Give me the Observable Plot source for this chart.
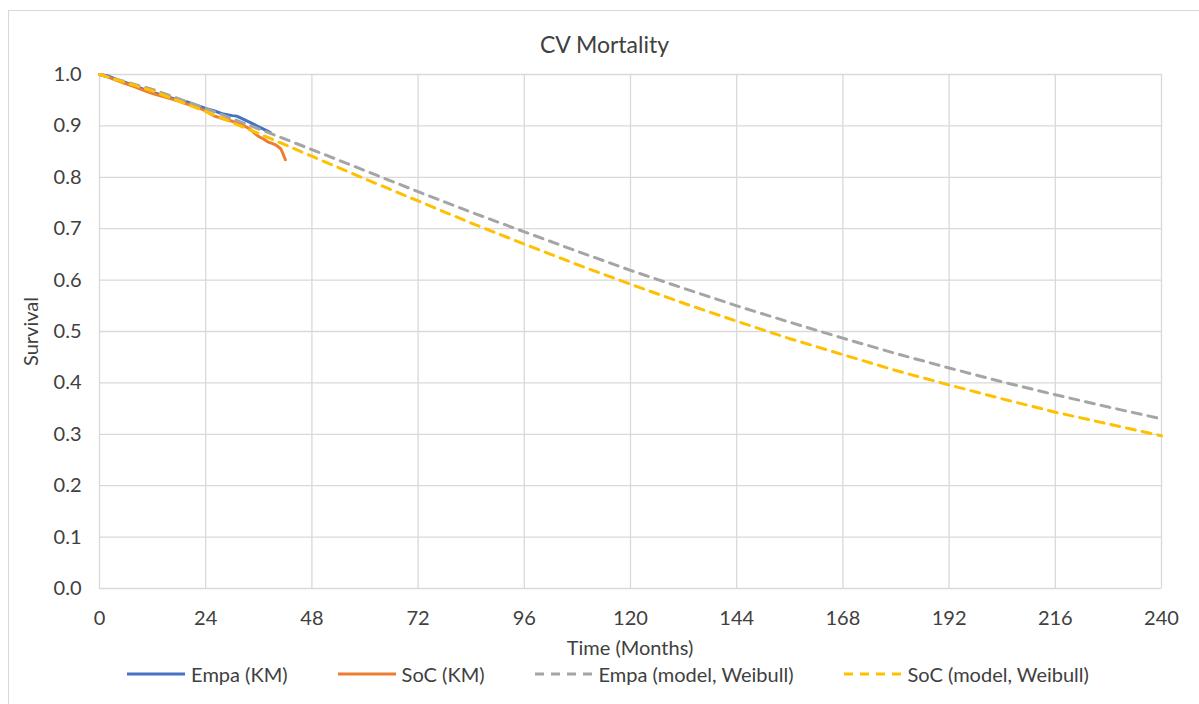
<!DOCTYPE html>
<html>
<head>
<meta charset="utf-8">
<script src="https://cdn.jsdelivr.net/npm/d3@7"></script>
<script src="https://cdn.jsdelivr.net/npm/@observablehq/plot@0.6"></script>
<style>
  body { margin: 0; background: #fff; font-family: Lato, "Open Sans", sans-serif; }
  #wrap { position: relative; width: 1199px; height: 704px; overflow: hidden; background: #fff; }
  #border { position: absolute; left: 8px; top: 10px; width: 1400px; height: 900px; border: 1px solid #d9d9d9; box-sizing: border-box; }
  #title { position: absolute; left: 0; top: 30px; width: 1209px; text-align: center; font-size: 23px; color: #404040; }
  #chart { position: absolute; left: 0; top: 60px; }
  #xlabel { position: absolute; left: 99px; width: 1062px; top: 635px; text-align: center; font-size: 20px; color: #404040; }
  #legend { position: absolute; left: 0; width: 1216px; top: 662px; display: flex; justify-content: center; gap: 50px; font-size: 20px; color: #404040; }
  .item { display: flex; align-items: center; gap: 6px; }
  .item svg { display: block; }
</style>
</head>
<body>
<div id="wrap">
  <div id="border"></div>
  <div id="title">CV Mortality</div>
  <div id="chart"></div>
  <div id="xlabel">Time (Months)</div>
  <div id="legend"></div>
</div>
<script>
// ---- data ----
const xTicks = [0, 24, 48, 72, 96, 120, 144, 168, 192, 216, 240];
const yTicks = [0, 0.1, 0.2, 0.3, 0.4, 0.5, 0.6, 0.7, 0.8, 0.9, 1.0];

// Kaplan-Meier (observed)
const empaKMTime = [0, 2, 4, 6, 8, 10, 12, 14, 16, 18, 20, 22, 24, 26, 28, 30, 31, 32, 34, 36, 38, 38.6];
const empaKMSurv = [1.0, 0.997, 0.990, 0.984, 0.978, 0.971, 0.965, 0.960, 0.955, 0.950, 0.946, 0.940, 0.934, 0.929, 0.923, 0.920, 0.919, 0.915, 0.907, 0.898, 0.890, 0.887];

const socKMTime = [0, 2, 4, 6, 8, 10, 12, 14, 16, 18, 20, 22, 24, 26, 28, 30, 32, 34, 35, 36, 37, 38, 39, 40, 41, 41.5, 42];
const socKMSurv = [1.0, 0.995, 0.988, 0.982, 0.976, 0.969, 0.963, 0.958, 0.953, 0.948, 0.942, 0.937, 0.929, 0.919, 0.914, 0.909, 0.903, 0.894, 0.886, 0.879, 0.875, 0.869, 0.866, 0.862, 0.855, 0.845, 0.834];

// Weibull model extrapolations
const modelTime = [0, 12, 24, 36, 48, 60, 72, 84, 96, 108, 120, 132, 144, 156, 168, 180, 192, 204, 216, 228, 240];
const empaModelSurv = [1.0, 0.971, 0.934, 0.894, 0.854, 0.813, 0.772, 0.732, 0.694, 0.656, 0.619, 0.584, 0.550, 0.518, 0.487, 0.457, 0.429, 0.402, 0.377, 0.353, 0.330];
const socModelSurv  = [1.0, 0.968, 0.928, 0.885, 0.841, 0.797, 0.754, 0.711, 0.670, 0.630, 0.592, 0.555, 0.520, 0.486, 0.455, 0.424, 0.396, 0.369, 0.343, 0.320, 0.297];

const seriesNames = ["Empa (KM)", "SoC (KM)", "Empa (model, Weibull)", "SoC (model, Weibull)"];
const seriesColors = ["#4472C4", "#ED7D31", "#A5A5A5", "#FFC000"];
const seriesDashed = [false, false, true, true];

// ---- build tables ----
const zip = (ts, ss) => ts.map((t, i) => ({t, s: ss[i]}));
const tables = [
  zip(empaKMTime, empaKMSurv),
  zip(socKMTime, socKMSurv),
  zip(modelTime, empaModelSurv),
  zip(modelTime, socModelSurv)
];

const lineMarks = tables.map((data, i) => Plot.line(data, {
  x: "t", y: "s",
  stroke: seriesColors[i],
  strokeWidth: 3,
  strokeDasharray: seriesDashed[i] ? "9,7" : null,
  strokeLinejoin: "round",
  curve: "linear"
}));

const chart = Plot.plot({
  width: 1199,
  height: 600,
  marginLeft: 99,
  marginRight: 38,
  marginTop: 14,
  marginBottom: 72,
  x: {domain: [0, 240]},
  y: {domain: [0, 1]},
  style: {fontFamily: "Lato, 'Open Sans', sans-serif", fontSize: "20px", color: "#404040", background: "transparent", overflow: "visible"},
  marks: [
    Plot.ruleY(yTicks, {stroke: "#d9d9d9", strokeWidth: 1.3, strokeOpacity: 1}),
    Plot.ruleX(xTicks, {stroke: "#d9d9d9", strokeWidth: 1.3, strokeOpacity: 1}),
    Plot.axisY(yTicks, {tickSize: 0, tickPadding: 18, tickFormat: d3.format(".1f"), label: "Survival", labelAnchor: "center", labelArrow: "none", labelOffset: 76}),
    Plot.axisX(xTicks, {tickSize: 0, tickPadding: 22, label: null}),
    ...lineMarks
  ]
});
document.getElementById("chart").appendChild(chart);

// ---- legend ----
const legend = document.getElementById("legend");
seriesNames.forEach((name, i) => {
  const item = document.createElement("div");
  item.className = "item";
  const ns = "http://www.w3.org/2000/svg";
  const svg = document.createElementNS(ns, "svg");
  svg.setAttribute("width", 58);
  svg.setAttribute("height", 10);
  const ln = document.createElementNS(ns, "line");
  ln.setAttribute("x1", 0); ln.setAttribute("x2", 58);
  ln.setAttribute("y1", 5); ln.setAttribute("y2", 5);
  ln.setAttribute("stroke", seriesColors[i]);
  ln.setAttribute("stroke-width", 3);
  if (seriesDashed[i]) ln.setAttribute("stroke-dasharray", "9,7");
  svg.appendChild(ln);
  const label = document.createElement("span");
  label.textContent = name;
  item.appendChild(svg);
  item.appendChild(label);
  legend.appendChild(item);
});
</script>
</body>
</html>
